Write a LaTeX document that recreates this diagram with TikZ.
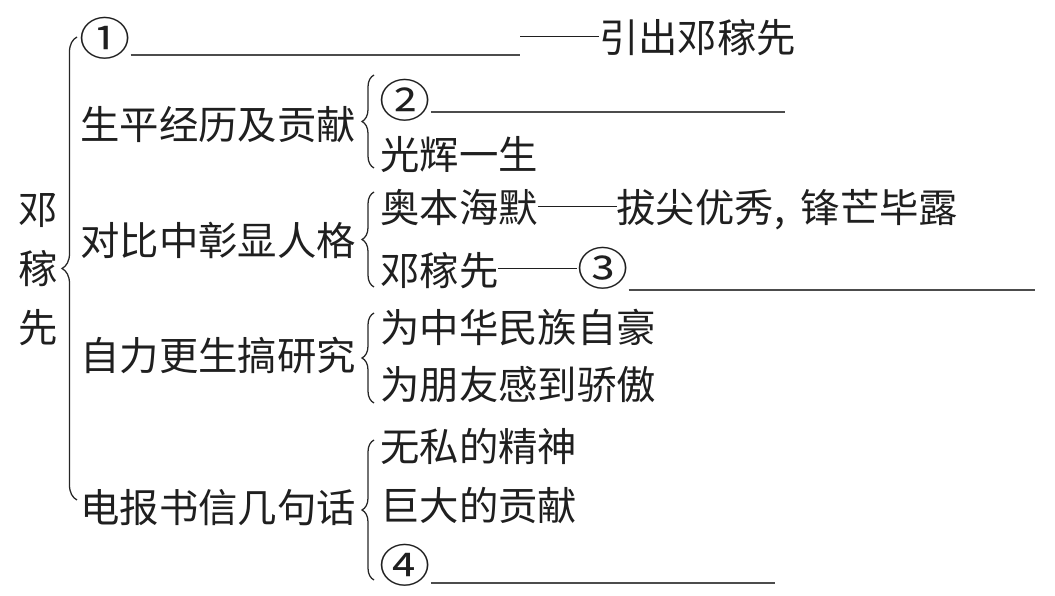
\documentclass[tikz,border=0pt]{standalone}
\usepackage{fontspec}
\newfontfamily\cjk{Noto Sans CJK SC}
\usetikzlibrary{decorations.pathreplacing}
\newcommand\qnum[1]{\scalebox{1.3}[1.15]{#1}}
\newcommand\longdash{\rule[0.4em]{2em}{0.04em}}

\begin{document}
\begin{tikzpicture}[
  x=0.025cm, y=-0.025cm,
  every node/.style={font=\cjk\fontsize{28}{34}\selectfont, inner sep=0pt, anchor=west, text=black!88},
  outline/.style={decorate, decoration={brace, amplitude=#1}, line width=0.9pt, draw=black!85},
  outline/.default=0.3cm,
  blankline/.style={line width=0.8pt, draw=black!70},
]
\useasboundingbox (0,0) rectangle (1055,596);

% Root and main brace
\node[anchor=center, align=center, font=\cjk\fontsize{28}{42}\selectfont] (root) at (38,270) {邓\\稼\\先};
\draw[outline=0.375cm] (77,500) -- (77,37);

% Intro line
\node (q1) at (79,38) {\qnum{①}};
\node (q1tail) at (520,38) {\longdash 引出邓稼先};
\draw[blankline] (q1.east |- 0,55) -- (q1tail.west |- 0,55);

% Life and contribution
\node (life) at (80,125) {生平经历及贡献};
\draw[outline] (374,168) -- (374,75);
\node (q2) at (379,100) {\qnum{②}};
\coordinate (q2end) at (785,112);
\draw[blankline] (q2.east |- q2end) -- (q2end);
\node (shine) at (380,155) {光辉一生};

% Contrast
\node (contrast) at (80,240) {对比中彰显人格};
\draw[outline] (374,287) -- (374,192);
\node (oppen) at (380,210) {奥本海默\longdash 拔尖优秀,\hspace{0.4em}锋芒毕露};
\node (deng) at (380,268) {邓稼先\longdash\qnum{③}};
\coordinate (q3end) at (1035,290);
\draw[blankline] (deng.east |- q3end) -- (q3end);

% Self-reliance
\node (research) at (80,355) {自力更生搞研究};
\draw[outline] (374,403) -- (374,313);
\node (proud) at (380,328) {为中华民族自豪};
\node (friend) at (380,385) {为朋友感到骄傲};

% Telegram
\node (letter) at (80,508) {电报书信几句话};
\draw[outline] (374,580) -- (374,440);
\node (selfless) at (380,446) {无私的精神};
\node (great) at (380,506) {巨大的贡献};
\node (q4) at (379,565) {\qnum{④}};
\coordinate (q4end) at (775,583);
\draw[blankline] (q4.east |- q4end) -- (q4end);

\end{tikzpicture}
\end{document}
